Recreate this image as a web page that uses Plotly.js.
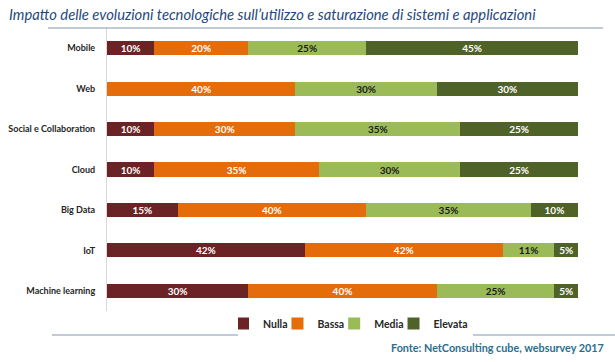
<!DOCTYPE html>
<html>
<head>
<meta charset="utf-8">
<script src="https://cdn.plot.ly/plotly-3.0.1.min.js"></script>
<style>html,body{margin:0;padding:0;background:#fff;}#chart{width:615px;height:362px;}</style>
</head>
<body>
<div id="chart"></div>
<script>
const categories = ["Mobile", "Web", "Social e Collaboration", "Cloud", "Big Data", "IoT", "Machine learning"];
const seriesNames = ["Nulla", "Bassa", "Media", "Elevata"];
const nulla   = [10, 0, 10, 10, 15, 42, 30];
const bassa   = [20, 40, 30, 35, 40, 42, 40];
const media   = [25, 30, 35, 30, 35, 11, 25];
const elevata = [45, 30, 25, 25, 10, 5, 5];
const colors = ["#6B2326", "#E46C0A", "#9BBB59", "#4F6228"];
const textColors = ["#FFFFFF", "#FFFFFF", "#1A1A1A", "#FFFFFF"];
const allValues = [nulla, bassa, media, elevata];
const FONT = "Lato, sans-serif";

const traces = allValues.map((vals, i) => ({
  type: "bar",
  orientation: "h",
  name: seriesNames[i],
  y: categories,
  x: vals,
  text: vals.map(v => v > 0 ? "<b>" + v + "%</b>" : ""),
  textposition: "inside",
  insidetextanchor: "middle",
  constraintext: "none",
  textfont: {family: FONT, size: 10, color: textColors[i]},
  marker: {color: colors[i], line: {width: 0}},
  hoverinfo: "skip"
}));

const plotH = 362 - 28 - 51;
const plotW = 615 - 107 - 37;
const px = x => (x - 107) / plotW;
const py = y => (362 - 51 - y) / plotH;

const layout = {
  width: 615, height: 362,
  margin: {l: 107, r: 37, t: 28, b: 51},
  paper_bgcolor: "#fff", plot_bgcolor: "#fff",
  barmode: "stack",
  bargap: 0.65,
  showlegend: true,
  legend: {orientation: "h", x: px(238), xanchor: "left", y: py(309), yanchor: "top",
           font: {family: FONT, size: 10.5, color: "#262626", weight: "bold"},
           itemwidth: 30, indentation: -15, traceorder: "normal"},
  xaxis: {range: [0, 100], showgrid: false, zeroline: false, showticklabels: false, showline: false, fixedrange: true},
  yaxis: {autorange: "reversed", type: "category", showgrid: false, zeroline: false,
          showline: true, linecolor: "#D9D9D9", linewidth: 1,
          ticks: "outside", ticklen: 9, tickcolor: "rgba(0,0,0,0)",
          tickfont: {family: FONT, size: 9, color: "#262626", weight: "bold"}},
  font: {family: FONT},
  annotations: [
    {text: "<i>Impatto delle evoluzioni tecnologiche sull\u2019utilizzo e saturazione di sistemi e applicazioni</i>",
     xref: "paper", yref: "paper", x: px(7), y: py(14), xanchor: "left", yanchor: "middle",
     showarrow: false, font: {family: FONT, size: 14.75, color: "#1F497D"}},
    {text: "<b>Fonte: NetConsulting cube, websurvey 2017</b>",
     xref: "paper", yref: "paper", x: px(606), y: py(347), xanchor: "right", yanchor: "middle",
     showarrow: false, font: {family: FONT, size: 10.8, color: "#2B6F8E"}}
  ],
  shapes: [
    {type: "line", xref: "paper", yref: "paper", x0: px(48), x1: px(603), y0: py(28), y1: py(28),
     line: {color: "#8497B0", width: 1.2}},
    {type: "line", xref: "paper", yref: "paper", x0: px(52), x1: px(615), y0: py(335), y1: py(335),
     line: {color: "#8497B0", width: 1.2}}
  ]
};

Plotly.newPlot("chart", traces, layout, {displayModeBar: false, staticPlot: true});
</script>
</body>
</html>
